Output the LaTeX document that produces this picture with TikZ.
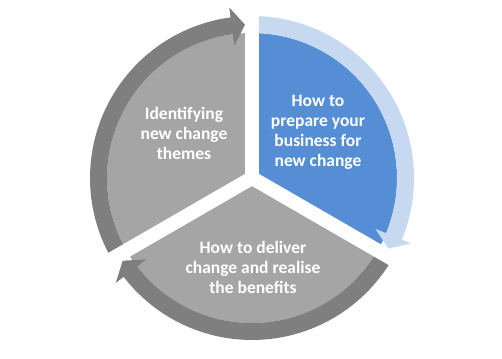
\documentclass[tikz,border=0pt]{standalone}
\usepackage{fontspec}
\setmainfont{Carlito}
\definecolor{sectorgray}{HTML}{A5A5A5}
\definecolor{bandgray}{HTML}{7F7F7F}
\definecolor{sectorblue}{HTML}{558ED5}
\definecolor{bandblue}{HTML}{C6D9F1}
\tikzset{
  label text/.style={text=white, align=center, inner sep=0pt,
    font=\fontsize{17.5}{20}\selectfont\bfseries},
  gapstrip/.style={fill=white},
}
\begin{document}
\begin{tikzpicture}[x=1pt,y=1pt]
\useasboundingbox (0,0) rectangle (502,358);
\coordinate (c) at (252,180);
\begin{scope}[shift={(c)}]
  % sectors
  \fill[sectorgray] (0,0) -- (90:145pt) arc[start angle=90, end angle=210, radius=145pt] -- cycle;
  \fill[sectorgray] (0,0) -- (210:145pt) arc[start angle=210, end angle=330, radius=145pt] -- cycle;
  \fill[sectorblue] (0,0) -- (-30:145pt) arc[start angle=-30, end angle=90, radius=145pt] -- cycle;
  % circular arrows
  \fill[bandgray] (210:145pt) arc[start angle=210, end angle=97.6, radius=145pt]
     -- (97.6:133.5pt) -- (92.6:153.5pt) -- (97.6:172pt) -- (97.6:162pt)
     arc[start angle=97.6, end angle=210, radius=162pt] -- cycle;
  \fill[bandblue] (90:145pt) arc[start angle=90, end angle=-22.4, radius=145pt]
     -- (-22.4:133.5pt) -- (-27.4:153.5pt) -- (-22.4:172pt) -- (-22.4:162pt)
     arc[start angle=-22.4, end angle=90, radius=162pt] -- cycle;
  \fill[bandgray] (-30:145pt) arc[start angle=-30, end angle=-142.4, radius=145pt]
     -- (-142.4:133.5pt) -- (-147.4:153.5pt) -- (-142.4:172pt) -- (-142.4:162pt)
     arc[start angle=-142.4, end angle=-30, radius=162pt] -- cycle;
  % gaps
  \foreach \a in {90,210,330}{
    \fill[gapstrip, rotate=\a] (0,-7pt) rectangle (200pt,7pt);
  }
  \fill[gapstrip] (0,0) circle[radius=7pt];
\end{scope}
\node[label text] (themes) at (184,225) {Identifying\\new change\\themes};
\node[label text] (prepare) at (318,226) {How to\\prepare your\\business for\\new change};
\node[label text] (deliver) at (253,91) {How to deliver\\change and realise\\the benefits};
\end{tikzpicture}
\end{document}
